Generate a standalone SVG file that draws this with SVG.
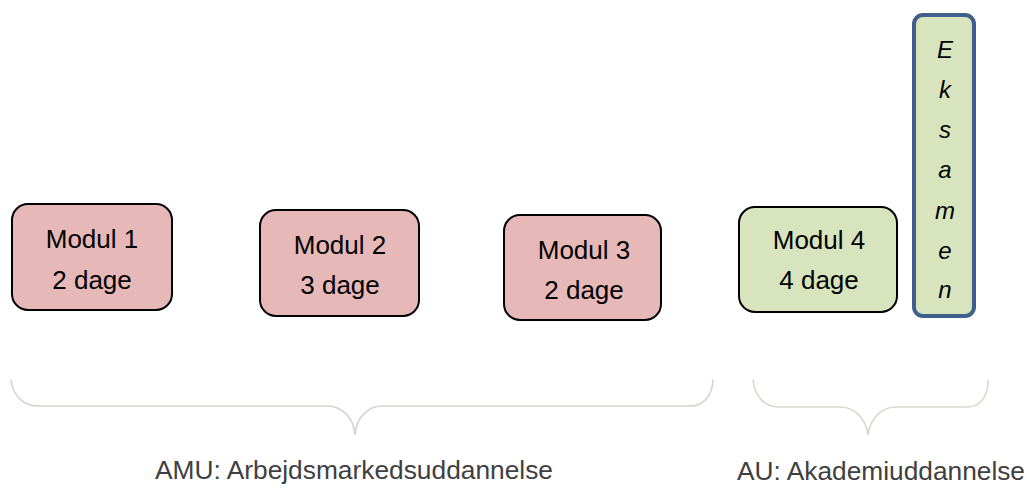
<svg xmlns="http://www.w3.org/2000/svg" width="1027" height="488" viewBox="0 0 1027 488">
  <style>
    .box { stroke: #000; stroke-width: 2; }
    .amu { fill: #E6B8B7; }
    .au { fill: #D7E4BD; }
    .lbl { font-family: "Liberation Sans", Arial, sans-serif; font-size: 26px; fill: #000; text-anchor: middle; }
    .ex { font-family: "Liberation Sans", Arial, sans-serif; font-size: 24px; font-style: italic; fill: #000; text-anchor: middle; }
    .brace { fill: none; stroke-width: 1.6; stroke-linecap: round; }
    .cap { font-family: "Liberation Sans", Arial, sans-serif; font-size: 25px; fill: #404040; }
  </style>
  <rect width="1027" height="488" fill="#fff"/>
  <g id="modul1">
    <rect class="box amu" x="12" y="204" width="160" height="106" rx="16"/>
    <text class="lbl" x="92" y="248">Modul 1</text>
    <text class="lbl" x="92" y="289">2 dage</text>
  </g>
  <g id="modul2">
    <rect class="box amu" x="260" y="210" width="159" height="106" rx="16"/>
    <text class="lbl" x="340" y="254">Modul 2</text>
    <text class="lbl" x="340" y="294">3 dage</text>
  </g>
  <g id="modul3">
    <rect class="box amu" x="504" y="215" width="157" height="105" rx="16"/>
    <text class="lbl" x="584" y="259">Modul 3</text>
    <text class="lbl" x="584" y="299">2 dage</text>
  </g>
  <g id="modul4">
    <rect class="box au" x="739" y="207" width="158" height="105" rx="16"/>
    <text class="lbl" x="819" y="249">Modul 4</text>
    <text class="lbl" x="819" y="289">4 dage</text>
  </g>
  <g id="eksamen">
    <rect x="914" y="15" width="60" height="301" rx="9" fill="#D7E4BD" stroke="#3F5F8C" stroke-width="4"/>
    <text class="ex" x="945" y="58">E</text>
    <text class="ex" x="945" y="98">k</text>
    <text class="ex" x="945" y="138">s</text>
    <text class="ex" x="945" y="178">a</text>
    <text class="ex" x="945" y="219">m</text>
    <text class="ex" x="945" y="259">e</text>
    <text class="ex" x="945" y="298">n</text>
  </g>
  <g id="connectors">
    <path class="brace" stroke="#DCD0D0" d="M11,380 C13,397 25,406 38,406 L327,406 C342,406 354,418 355,435 C356,418 368,406 382,406 L690,406 C703,406 712,397 713,380"/>
    <path class="brace" stroke="#D6D9CF" d="M753,380 C755,397 765,407 778,407 L840,407 C854,407 866,418 868,435 C870,418 882,407 896,407 L967,407 C980,407 988,397 988,380"/>
  </g>
  <g id="labels">
    <text class="cap" x="155" y="479" textLength="398" lengthAdjust="spacingAndGlyphs">AMU: Arbejdsmarkedsuddannelse</text>
    <text class="cap" x="737" y="480" textLength="288" lengthAdjust="spacingAndGlyphs">AU: Akademiuddannelse</text>
  </g>
</svg>
